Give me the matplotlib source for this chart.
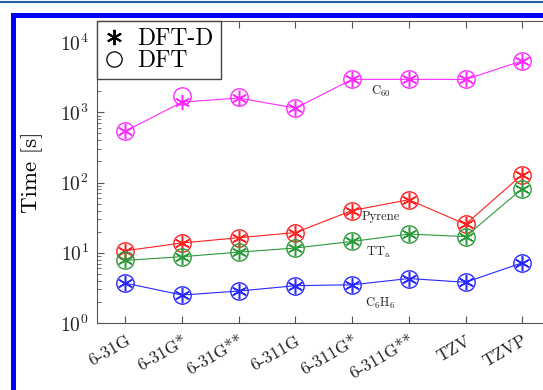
import matplotlib
matplotlib.use("Agg")
import matplotlib.pyplot as plt
from matplotlib.lines import Line2D
from matplotlib.patches import Rectangle
import numpy as np

plt.rcParams['font.family'] = 'serif'
plt.rcParams['font.serif'] = ['cmr10', 'DejaVu Serif']
plt.rcParams['mathtext.fontset'] = 'cm'
plt.rcParams['axes.formatter.use_mathtext'] = True

basis = ["6-31G", "6-31G*", "6-31G**", "6-311G", "6-311G*", "6-311G**", "TZV", "TZVP"]

c60_dftd = [540, 1400, 1600, 1150, 2950, 2950, 2950, 5400]
c60_dft = [540, 1700, 1650, 1150, 2950, 2950, 2950, 5400]
pyrene_dftd = [10.7, 13.8, 16.4, 19.4, 40, 57, 25.5, 130]
pyrene_dft = [10.7, 13.8, 16.4, 19.4, 40, 57, 25.5, 130]
tta_dftd = [7.8, 8.8, 10.2, 11.7, 14.5, 18.5, 17, 82]
tta_dft = [7.8, 8.8, 10.2, 11.7, 14.5, 18.5, 17, 82]
c6h6_dftd = [3.7, 2.5, 2.85, 3.4, 3.5, 4.3, 3.8, 7.2]
c6h6_dft = [3.7, 2.5, 2.85, 3.4, 3.5, 4.3, 3.8, 7.2]

series = [
    ("C$_{60}$", c60_dftd, c60_dft, "#ff2aff", 4.5, 2000),
    ("Pyrene", pyrene_dftd, pyrene_dft, "#ff2020", 4.5, 32),
    ("TT$_{\\mathrm{a}}$", tta_dftd, tta_dft, "#2a9a3a", 4.46, 10),
    ("C$_6$H$_6$", c6h6_dftd, c6h6_dft, "#2828ff", 4.5, 1.9),
]

fig = plt.figure(figsize=(5.43, 3.9), dpi=100)
ax = fig.add_axes([97/543, 1-323/390, (550.6-97)/543, (323-21)/390])

x = np.arange(len(basis))
star = (6, 2, 0)
for label, dftd, dft, col, tx, ty in series:
    ax.plot(x, dftd, color=col, lw=0.8, marker=star, ms=11, mew=1.1, zorder=3)
    ax.plot(x, dft, color=col, lw=0, marker='o', ms=12.5, mfc='none', mew=1.0, zorder=3)
    ax.text(tx, ty, label, fontsize=9, color='#222222', ha='center', va='center')

ax.set_yscale('log')
ax.set_ylim(1, 2e4)
ax.set_xlim(-0.5, 7.5)
ax.set_xticks(x)
ax.set_xticklabels(basis, rotation=30, ha='right', rotation_mode='anchor', fontsize=12.5)
ax.set_yticks([1, 10, 100, 1000, 10000])
ax.tick_params(axis='both', which='both', direction='in', top=True, right=True, colors='#555555', labelcolor='#222222')
ax.tick_params(axis='y', labelsize=14, length=5, pad=6)
ax.tick_params(axis='x', length=5, pad=7)
ax.tick_params(which='minor', length=3)
for s in ax.spines.values():
    s.set_color('#555555')
ax.set_ylabel("Time [s]", fontsize=16.5, labelpad=12)

handles = [Line2D([], [], color='black', lw=0, marker=star, ms=11, mew=1.4),
           Line2D([], [], color='black', lw=0, marker='o', ms=11, mfc='none', mew=0.9)]
leg = ax.legend(handles, ["DFT-D", "DFT"], loc='upper left', fontsize=17, frameon=True,
                fancybox=False, borderaxespad=0, handlelength=0.8, handletextpad=0.6,
                labelspacing=0.0, borderpad=0.3, framealpha=1)
leg.get_frame().set_edgecolor('#444444')
leg.get_frame().set_linewidth(1.0)

fig.patches.append(Rectangle((12.5/543, -0.1), 1.2, 0.1 + 1 - 14.5/390, transform=fig.transFigure,
                             fill=False, edgecolor='#0000ff', lw=3.6, zorder=10))
fig.lines.append(Line2D([0, 1], [1-2/390, 1-2/390], transform=fig.transFigure, color='#1f5fa5', lw=1.5))

fig.savefig("out.png", dpi=100)
